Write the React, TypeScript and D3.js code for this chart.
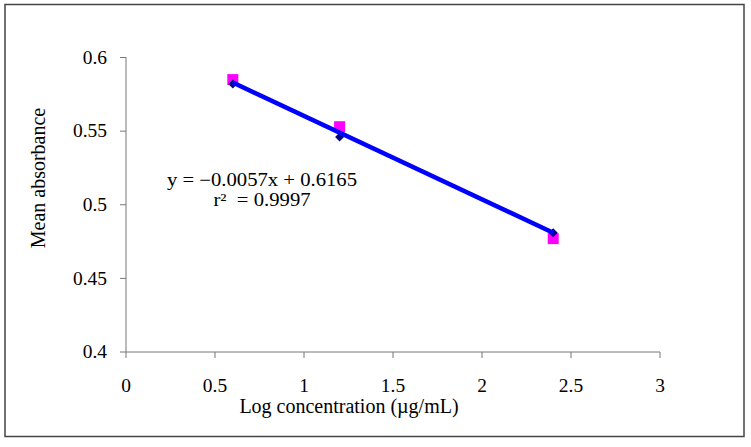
import React from 'react';
import * as d3 from 'd3';

// values
const concentrations = [0.6, 1.2, 2.4];
const measured = [0.585, 0.553, 0.477];
const fitted = [0.582, 0.546, 0.481];
const trendX = [0.6, 2.4];
const trendY = [0.583, 0.481];

const xTicks = [0, 0.5, 1, 1.5, 2, 2.5, 3];
const xTickLabels = ['0', '0.5', '1', '1.5', '2', '2.5', '3'];
const yTicks = [0.4, 0.45, 0.5, 0.55, 0.6];
const yTickLabels = ['0.4', '0.45', '0.5', '0.55', '0.6'];

const equationLines = ['y = \u22120.0057x + 0.6165', 'r\u00B2\u00A0 = 0.9997'];

const W = 751;
const H = 447;
const FONT = '"Liberation Serif", "Times New Roman", serif';

function App() {
  const x = d3.scaleLinear().domain([0, 3]).range([126, 660]);
  const y = d3.scaleLinear().domain([0.4, 0.6]).range([352, 57.5]);

  const square = d3.symbol(d3.symbolSquare, 121)();
  const diamond = d3.symbol(d3.symbolSquare, 40)();

  const trend = d3
    .line<number>()
    .x((d) => x(d))
    .y((d, i) => y(trendY[i]));

  const axisColor = '#777';

  return (
    <svg
      width={W}
      height={H}
      style={{ position: 'absolute', left: 0, top: 0, background: '#fff' }}
      fontFamily={FONT}
    >
      <rect x={5} y={4.5} width={739} height={432} fill="#fff" stroke="#444" strokeWidth={1.5} />

      {/* y axis */}
      <line x1={x(0)} x2={x(0)} y1={y(0.6)} y2={y(0.4)} stroke={axisColor} />
      {yTicks.map((t, i) => (
        <g key={'y' + t} transform={`translate(0,${y(t)})`}>
          <line x1={x(0) - 6} x2={x(0)} stroke={axisColor} />
          <text
            transform={`translate(107,0) scale(1.08,1)`}
            textAnchor="end"
            dy="0.35em"
            fontSize={18}
            fontFamily={FONT}
            fill="#000"
          >
            {yTickLabels[i]}
          </text>
        </g>
      ))}

      {/* x axis */}
      <line x1={x(0)} x2={x(3)} y1={y(0.4)} y2={y(0.4)} stroke={axisColor} />
      {xTicks.map((t, i) => (
        <g key={'x' + t} transform={`translate(${x(t)},${y(0.4)})`}>
          <line y1={0} y2={6} stroke={axisColor} />
          <text
            transform="translate(0,40) scale(1.08,1)"
            textAnchor="middle"
            fontSize={18}
            fontFamily={FONT}
            fill="#000"
          >
            {xTickLabels[i]}
          </text>
        </g>
      ))}

      <text x={349} y={413} textAnchor="middle" fontSize={20} fontFamily={FONT} fill="#000">
        Log concentration (µg/mL)
      </text>
      <text
        transform="translate(45,178) rotate(-90)"
        textAnchor="middle"
        fontSize={20}
        fontFamily={FONT}
        fill="#000"
      >
        Mean absorbance
      </text>

      {/* measured points */}
      {concentrations.map((c, i) => (
        <path key={'s' + c} d={square!} transform={`translate(${x(c)},${y(measured[i])})`} fill="#FF00FF" />
      ))}
      {/* fitted points */}
      {concentrations.map((c, i) => (
        <path
          key={'d' + c}
          d={diamond!}
          transform={`translate(${x(c)},${y(fitted[i])}) rotate(45)`}
          fill="#000080"
        />
      ))}
      <path d={trend(trendX)!} fill="none" stroke="#0000FF" strokeWidth={4.5} />

      {equationLines.map((line, i) => (
        <text
          key={line}
          transform={`translate(262,${186 + i * 20}) scale(1.15,1)`}
          textAnchor="middle"
          fontSize={18}
          fontFamily={FONT}
          fill="#000"
        >
          {line}
        </text>
      ))}
    </svg>
  );
}

export default App;
